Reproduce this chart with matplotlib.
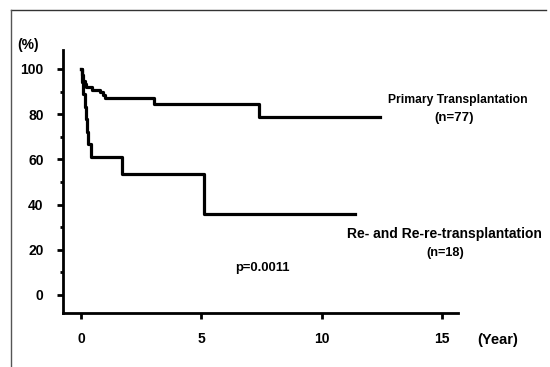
import matplotlib
matplotlib.use('Agg')
import matplotlib.pyplot as plt
from matplotlib.lines import Line2D
from matplotlib.ticker import MultipleLocator

plt.rcParams['font.family'] = ['Liberation Sans', 'DejaVu Sans']
plt.rcParams['font.weight'] = 'bold'

# Kaplan-Meier graft survival (%), step curves
primary_t = [0, 0.02, 0.05, 0.08, 0.1, 0.15, 0.2, 0.45, 0.8, 0.9, 1.0, 3.05, 7.4, 12.4]
primary_s = [100, 98.7, 97.4, 96.1, 94.8, 93.5, 92.2, 90.9, 89.6, 88.3, 87.0, 84.5, 78.8, 78.8]

retx_t = [0, 0.05, 0.1, 0.15, 0.2, 0.25, 0.3, 0.4, 1.7, 5.1, 11.4]
retx_s = [100, 94.4, 88.9, 83.3, 77.8, 72.2, 66.7, 61.1, 53.5, 35.6, 35.6]

xticks = [0, 5, 10, 15]
yticks = [0, 20, 40, 60, 80, 100]

W, H = 550, 367
fig = plt.figure(figsize=(W / 100, H / 100), dpi=100)
ax = fig.add_axes([63 / W, 1 - 313 / H, (458 - 63) / W, (313 - 50) / H])


def put(px, py, s, size=8.5, **kw):
    # place text by pixel position from the top-left corner
    fig.text(px / W, 1 - py / H, s, fontsize=size, fontweight='bold',
             ha='center', va='center', **kw)


ax.step(primary_t, primary_s, where='post', color='black', lw=2.3)
ax.step(retx_t, retx_s, where='post', color='black', lw=2.3)

ax.set_xlim(-0.75, 15.66)
ax.set_ylim(-8, 108.4)
ax.set_xticks(xticks)
ax.set_yticks(yticks)
ax.yaxis.set_minor_locator(MultipleLocator(10))

for side in ['top', 'right']:
    ax.spines[side].set_visible(False)
for side in ['left', 'bottom']:
    ax.spines[side].set_linewidth(2)

ax.tick_params(axis='both', which='major', direction='out', length=4, width=2,
               labelsize=10, pad=10)
ax.tick_params(axis='y', which='minor', direction='out', length=2.5, width=2)
for lab in ax.get_xticklabels() + ax.get_yticklabels():
    lab.set_fontweight('bold')

put(28, 45, '(%)', 10)
put(498, 340, '(Year)', 10.5)
put(458, 100, 'Primary Transplantation', 8.7)
put(454, 118, '(n=77)', 9.5)
put(444, 234, 'Re- and Re-re-transplantation', 10)
put(445, 253, '(n=18)', 9.2)
put(262, 268, 'p=0.0011', 9.4)

# outer frame (top and left edges)
fig.add_artist(Line2D([11 / W, 546 / W], [1 - 10 / H, 1 - 10 / H],
                      color='#333333', lw=1))
fig.add_artist(Line2D([11 / W, 11 / W], [1 - 10 / H, 0], color='#555555', lw=1))

fig.savefig('out.png', dpi=100)
